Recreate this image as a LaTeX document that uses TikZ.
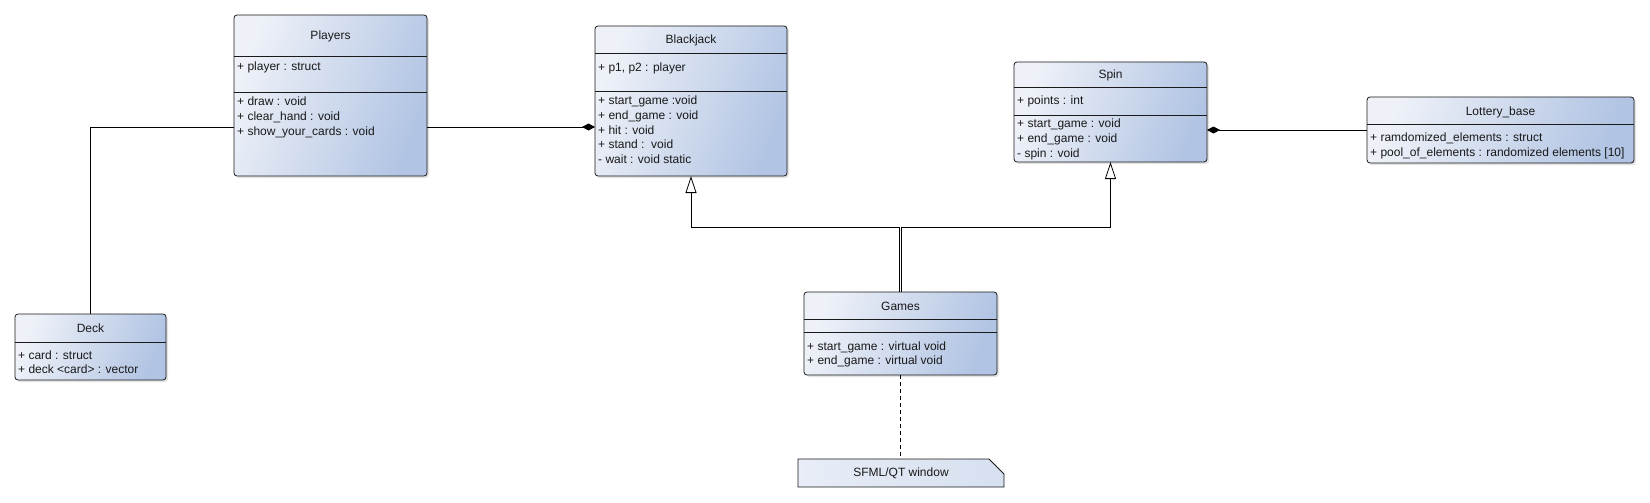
\documentclass[tikz,border=0pt]{standalone}
\usepackage{fontspec}
\setmainfont{Liberation Sans}
\usetikzlibrary{arrows.meta,shadows}
\definecolor{umlL}{HTML}{EEF1F8}
\definecolor{umlR}{HTML}{B1C4E3}
\definecolor{noteL}{HTML}{E8EDF7}
\definecolor{noteR}{HTML}{D6E0EF}
\definecolor{lineC}{HTML}{1A1A1A}
\tikzset{
  classbox/.style={draw=lineC, line width=0.8pt, rounded corners=3pt,
    left color=umlL, right color=umlR, shading angle=70,
    inner sep=0pt, outer sep=0pt, anchor=north west,
    drop shadow={shadow xshift=2pt, shadow yshift=-2pt, opacity=0.22}},
  divider/.style={draw=lineC, line width=0.8pt},
  member/.style={font=\fontsize{12}{14}\selectfont, inner sep=0pt, anchor=base west, text=black!90},
  umltitle/.style={font=\fontsize{12}{14}\selectfont, inner sep=0pt, anchor=base, text=black!90},
  conn/.style={line width=0.8pt, draw=black},
  inherit/.style={conn, -{Triangle[length=17pt, width=11pt, fill=white, line width=0.8pt]}},
  compose/.style={conn, -{Diamond[length=13pt, width=7pt, fill=black]}},
  composerev/.style={conn, {Diamond[length=13pt, width=7pt, fill=black]}-},
  notedash/.style={conn, dash pattern=on 4pt off 3pt},
}
\newcommand\umlbox[5]{\node[classbox, minimum width=#4pt, minimum height=#5pt] (#1) at (#2,#3) {};}
\newcommand\umldiv[2]{\draw[divider] (#1.west |- 0,#2) -- (#1.east |- 0,#2);}
\newcommand\umlmembers[4]{\foreach \t [count=\i] in {#4} {\node[member] (#1-\i) at (#2,{#3+(\i-1)*14.5}) {\t};}}
\begin{document}
\begin{tikzpicture}[x=1pt,y=-1pt]
\path[use as bounding box, fill=white] (0,0) rectangle (1650,503);

% Players
\umlbox{players}{234}{15}{193}{161}
\umldiv{players}{56}
\umldiv{players}{92}
\node[umltitle] (players-t) at (330.5,40) {Players};
\umlmembers{players-a}{237}{70.5}{{+ player : struct}}
\umlmembers{players-m}{237}{106}{{+ draw : void},{+ clear\_hand : void},{+ show\_your\_cards : void}}

% Blackjack
\umlbox{blackjack}{595}{26}{192}{150}
\umldiv{blackjack}{53}
\umldiv{blackjack}{91}
\node[umltitle] (blackjack-t) at (691,44) {Blackjack};
\umlmembers{blackjack-a}{598}{72}{{+ p1, p2 : player}}
\umlmembers{blackjack-m}{598}{105}{{+ start\_game :void},{+ end\_game : void},{+ hit : void},{+ stand :\ \ void},{- wait : void static}}

% Spin
\umlbox{spin}{1014}{62}{193}{100}
\umldiv{spin}{87}
\umldiv{spin}{115}
\node[umltitle] (spin-t) at (1110.5,79) {Spin};
\umlmembers{spin-a}{1017}{105}{{+ points : int}}
\umlmembers{spin-m}{1017}{128}{{+ start\_game : void},{+ end\_game : void},{- spin : void}}

% Lottery_base
\umlbox{lottery}{1367}{97}{267}{66}
\umldiv{lottery}{124}
\node[umltitle] (lottery-t) at (1500.5,115) {Lottery\_base};
\umlmembers{lottery-a}{1370}{141.5}{{+ ramdomized\_elements : struct},{+ pool\_of\_elements : randomized elements [10]}}

% Deck
\umlbox{deck}{15}{314}{151}{66}
\umldiv{deck}{342}
\node[umltitle] (deck-t) at (90.5,332.5) {Deck};
\umlmembers{deck-a}{18}{359}{{+ card : struct},{+ deck <card> : vector}}

% Games
\umlbox{games}{804}{292}{193}{83}
\umldiv{games}{319}
\umldiv{games}{332}
\node[umltitle] (games-t) at (900.5,310) {Games};
\umlmembers{games-m}{807}{350}{{+ start\_game : virtual void},{+ end\_game : virtual void}}

% Note
\coordinate (nNW) at (798,459);
\coordinate (nSE) at (1004,487);
\draw[draw=lineC, line width=0.8pt, left color=noteL, right color=noteR]
  (nNW) -- (989,459) -- (1004,474) -- (nSE) -- (nNW |- nSE) -- cycle;
\path (nNW) -- (nSE) node[midway, inner sep=0pt, font=\fontsize{12}{14}\selectfont, text=black!90] (note) {SFML/QT window};

% Connectors
\coordinate (yPB) at (0,127);
\coordinate (ySL) at (0,130);
\coordinate (split) at (0,227);
\draw[compose] (players.east |- yPB) -- (blackjack.west |- yPB);
\draw[conn] (players.west |- yPB) -| (deck.north);
\draw[composerev] (spin.east |- ySL) -- (lottery.west |- ySL);
\draw[inherit] ([xshift=-1pt]games.north) -- ([xshift=-1pt]games.north |- split) -| (blackjack.south);
\draw[inherit] ([xshift=1pt]games.north) -- ([xshift=1pt]games.north |- split) -| (spin.south);
\draw[notedash] (games.south) -- (games.south |- nNW);
\end{tikzpicture}
\end{document}
